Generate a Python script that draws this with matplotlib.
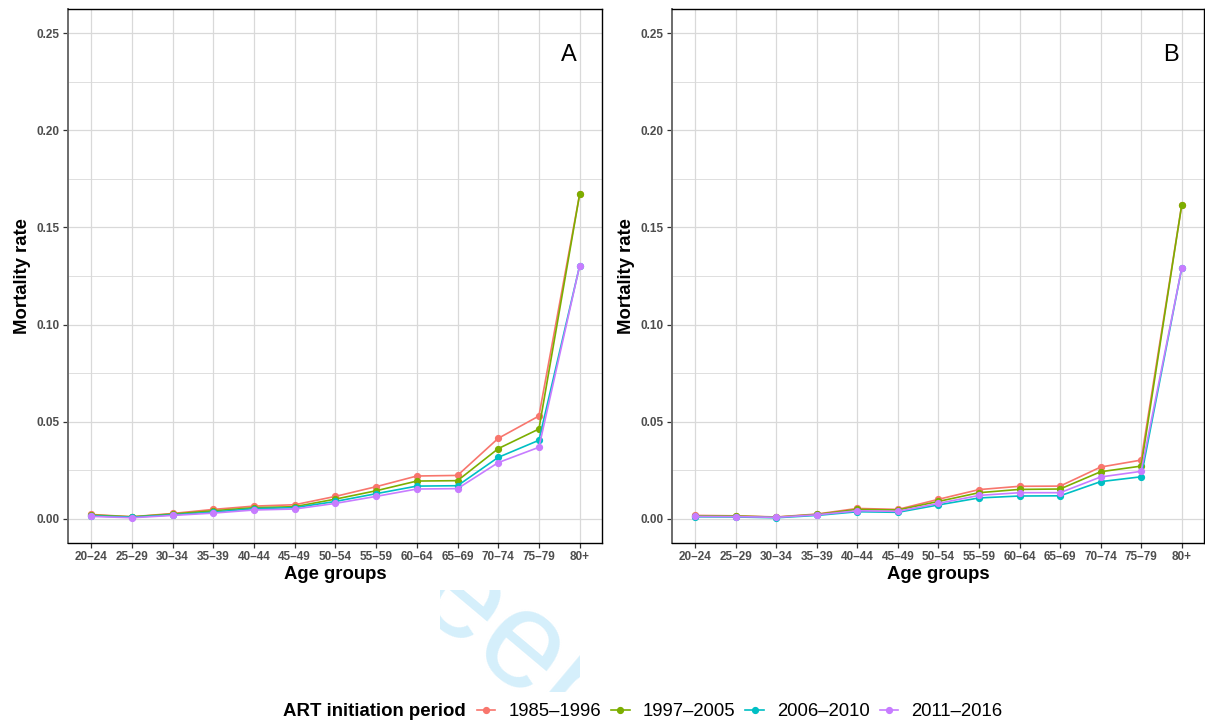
import numpy as np
import matplotlib
matplotlib.use('Agg')
import matplotlib.pyplot as plt
from matplotlib.patches import Rectangle
from matplotlib.lines import Line2D

plt.rcParams['font.family'] = ['Liberation Sans', 'DejaVu Sans']

age_groups = ['20–24', '25–29', '30–34', '35–39', '40–44', '45–49', '50–54',
              '55–59', '60–64', '65–69', '70–74', '75–79', '80+']
periods = ['1985–1996', '1997–2005', '2006–2010', '2011–2016']
colors = ['#F8766D', '#7CAE00', '#00BFC4', '#C77CFF']

# panel A
rate_a_1985 = [0.0022, 0.0010, 0.0027, 0.0048, 0.0065, 0.0072, 0.0115,
               0.0165, 0.0220, 0.0223, 0.0414, 0.0529, 0.1670]
rate_a_1997 = [0.0019, 0.0010, 0.0024, 0.0041, 0.0057, 0.0062, 0.0101,
               0.0144, 0.0194, 0.0196, 0.0361, 0.0462, 0.1670]
rate_a_2006 = [0.0015, 0.0008, 0.0020, 0.0034, 0.0052, 0.0057, 0.0089,
               0.0129, 0.0168, 0.0170, 0.0316, 0.0404, 0.1302]
rate_a_2011 = [0.0012, 0.0005, 0.0017, 0.0029, 0.0045, 0.0050, 0.0079,
               0.0115, 0.0153, 0.0155, 0.0289, 0.0368, 0.1302]

# panel B
rate_b_1985 = [0.0017, 0.0015, 0.0009, 0.0024, 0.0053, 0.0048, 0.0100,
               0.0150, 0.0167, 0.0168, 0.0266, 0.0302, 0.1615]
rate_b_1997 = [0.0015, 0.0014, 0.0008, 0.0022, 0.0048, 0.0045, 0.0089,
               0.0134, 0.0151, 0.0153, 0.0242, 0.0271, 0.1615]
rate_b_2006 = [0.0010, 0.0009, 0.0005, 0.0017, 0.0036, 0.0033, 0.0071,
               0.0107, 0.0117, 0.0118, 0.0191, 0.0216, 0.1290]
rate_b_2011 = [0.0012, 0.0011, 0.0007, 0.0020, 0.0041, 0.0038, 0.0079,
               0.0120, 0.0134, 0.0134, 0.0215, 0.0244, 0.1290]

panels = [('A', [rate_a_1985, rate_a_1997, rate_a_2006, rate_a_2011]),
          ('B', [rate_b_1985, rate_b_1997, rate_b_2006, rate_b_2011])]

W, H = 1205, 727
fig = plt.figure(figsize=(W / 100, H / 100), dpi=100)

# faint watermark, only a small patch of it shows below panel A
wm = fig.text(150 / W, 1 - 384 / H, 'For Peer Review', fontsize=100,
              color='#d5effb', rotation=-40, rotation_mode='anchor',
              ha='left', va='baseline', zorder=0)
wm.set_clip_path(Rectangle((440 / W, 1 - 692 / H), (580 - 440) / W,
                           (692 - 590) / H, transform=fig.transFigure))

boxes = [(68, 534), (672, 532)]
x = np.arange(len(age_groups))

for (letter, series), (left, width) in zip(panels, boxes):
    ax = fig.add_axes([left / W, (H - 543) / H, width / W, 534 / H])
    for vals, col in zip(series, colors):
        ax.plot(x, vals, color=col, lw=1.2, marker='o', ms=4.2, mec=col,
                solid_capstyle='round', zorder=3)
    ax.set_xlim(-0.57, 12.55)
    ax.set_ylim(-0.0125, 0.2625)
    ax.set_xticks(x)
    ax.set_xticklabels(age_groups)
    ax.set_yticks([0, 0.05, 0.10, 0.15, 0.20, 0.25])
    ax.set_yticklabels(['0.00', '0.05', '0.10', '0.15', '0.20', '0.25'])
    ax.set_yticks(np.arange(0.025, 0.25, 0.05), minor=True)
    ax.grid(True, which='major', color='#d9d9d9', lw=0.9, zorder=0)
    ax.grid(True, which='minor', axis='y', color='#d9d9d9', lw=0.6, zorder=0)
    ax.set_axisbelow(True)
    ax.tick_params(axis='both', which='major', length=3.5, width=0.9,
                   color='#333333', labelsize=8.5, labelcolor='#4d4d4d', pad=2.5)
    ax.tick_params(axis='y', which='minor', length=0)
    for lab in ax.get_xticklabels() + ax.get_yticklabels():
        lab.set_fontweight('bold')
    for side in ['top', 'right', 'bottom']:
        ax.spines[side].set_color('black')
        ax.spines[side].set_linewidth(1.0)
    ax.spines['left'].set_color('#6b6b6b')
    ax.spines['left'].set_linewidth(1.4)
    ax.set_xlabel('Age groups', fontsize=13.3, fontweight='bold', labelpad=2)
    ax.set_ylabel('Mortality rate', fontsize=13.3, fontweight='bold', labelpad=4)
    ax.text(11.74, 0.2387, letter, fontsize=17, ha='center', va='center')

# legend across the bottom, title on the left
fig.text(283 / W, 1 - 712 / H, 'ART initiation period', fontsize=13.4,
         fontweight='bold', ha='left', va='center')
handles = [Line2D([0], [0], color=c, lw=1.2, marker='o', ms=4.2, mec=c)
           for c in colors]
fig.legend(handles, periods, loc='center left', ncol=4,
           bbox_to_anchor=(477 / W, 1 - 712 / H), frameon=False,
           fontsize=13.3, handlelength=1.0, handletextpad=0.7,
           columnspacing=0.55, borderpad=0, borderaxespad=0)

fig.savefig('out.png', dpi=100, facecolor='white')
